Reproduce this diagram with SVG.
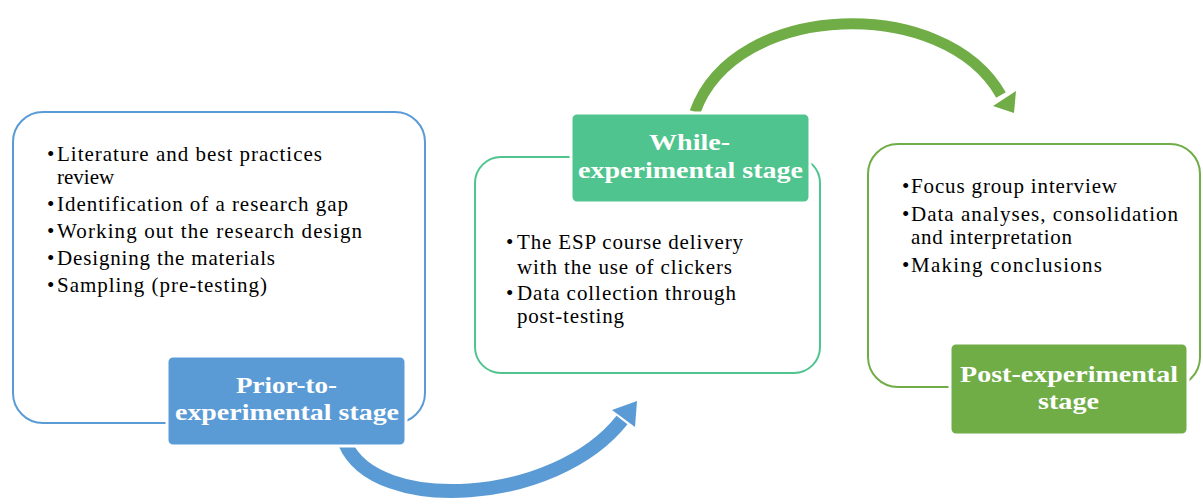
<svg xmlns="http://www.w3.org/2000/svg" width="1203" height="504" viewBox="0 0 1203 504">
<style>
.box{fill:#fff;stroke-width:2}
.lbl{stroke:#fff;stroke-width:3}
.bt{font-family:"Liberation Serif","Times New Roman",serif;font-size:21px;fill:#000}
.lt{font-family:"Liberation Serif","Times New Roman",serif;font-size:24px;font-weight:bold;fill:#fff}
</style>
<rect width="1203" height="504" fill="#fff"/>
<g id="connectors">
<path d="M345,443 C375,515 555,505 622,420" fill="none" stroke="#5B9BD5" stroke-width="14"/>
<polygon points="637,401 635,427 612,410" fill="#5B9BD5"/>
<path d="M695,112 C735,0 945,-5 1001,95" fill="none" stroke="#70AD47" stroke-width="11"/>
<polygon points="1014,113 993,106 1016,91" fill="#70AD47"/>
</g>
<g id="prior">
<rect class="box" x="13" y="112" width="412" height="311" rx="30" stroke="#5B9BD5"/>
<g class="bt">
<text x="47" y="161">•</text><text x="57" y="161" textLength="265" lengthAdjust="spacing">Literature  and best practices</text>
<text x="57" y="184">review</text>
<text x="47" y="211">•</text><text x="57" y="211" textLength="291" lengthAdjust="spacing">Identification  of a research gap</text>
<text x="47" y="238">•</text><text x="57" y="238" textLength="305" lengthAdjust="spacing">Working out the research design</text>
<text x="47" y="265">•</text><text x="57" y="265" textLength="218" lengthAdjust="spacing">Designing  the materials</text>
<text x="47" y="292">•</text><text x="57" y="292" textLength="210" lengthAdjust="spacing">Sampling  (pre-testing)</text>
</g>
<rect class="lbl" x="167" y="356" width="239" height="90" rx="6" fill="#5B9BD5"/>
<text class="lt" x="236" y="393" textLength="101" lengthAdjust="spacingAndGlyphs">Prior-to-</text>
<text class="lt" x="175" y="420" textLength="224" lengthAdjust="spacingAndGlyphs">experimental stage</text>
</g>
<g id="while">
<rect class="box" x="475" y="157" width="345" height="216" rx="26" stroke="#50C48E"/>
<g class="bt">
<text x="506" y="249">•</text><text x="517" y="249" textLength="226" lengthAdjust="spacing">The ESP course delivery</text>
<text x="517" y="274" textLength="215" lengthAdjust="spacing">with the use of clickers</text>
<text x="506" y="300">•</text><text x="517" y="300" textLength="219" lengthAdjust="spacing">Data collection through</text>
<text x="517" y="323" textLength="107" lengthAdjust="spacing">post-testing</text>
</g>
<rect class="lbl" x="571" y="113" width="239" height="90" rx="6" fill="#50C48E"/>
<text class="lt" x="649" y="150" textLength="81" lengthAdjust="spacingAndGlyphs">While-</text>
<text class="lt" x="578" y="178" textLength="225" lengthAdjust="spacingAndGlyphs">experimental stage</text>
</g>
<g id="post">
<rect class="box" x="868" y="144" width="332" height="243" rx="30" stroke="#70AD47"/>
<g class="bt">
<text x="902" y="193">•</text><text x="911" y="193" textLength="206" lengthAdjust="spacing">Focus group interview</text>
<text x="902" y="221">•</text><text x="911" y="221" textLength="267" lengthAdjust="spacing">Data analyses, consolidation</text>
<text x="911" y="244" textLength="161" lengthAdjust="spacing">and interpretation</text>
<text x="902" y="272">•</text><text x="911" y="272" textLength="191" lengthAdjust="spacing">Making  conclusions</text>
</g>
<rect class="lbl" x="950" y="343" width="238" height="92" rx="6" fill="#70AD47"/>
<text class="lt" x="960" y="382" textLength="218" lengthAdjust="spacingAndGlyphs">Post-experimental</text>
<text class="lt" x="1038" y="409" textLength="61" lengthAdjust="spacingAndGlyphs">stage</text>
</g>
</svg>
